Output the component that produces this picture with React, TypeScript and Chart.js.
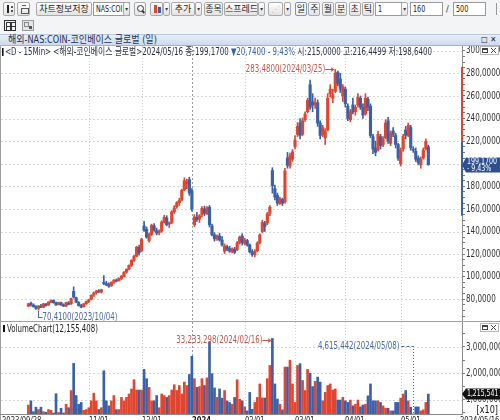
import React, { useEffect, useRef } from 'react';
import { Chart, registerables } from 'chart.js';

Chart.register(...registerables);

// ---------------- data (daily candles, 2023/09/28 .. 2024/05/16) ----------------
const opens = [
  74.0, 76.5, 75.0, 73.5, 72.0, 74.0, 73.0, 75.5, 75.0, 77.5,
  79.0, 77.0, 75.5, 77.0, 75.0, 74.0, 77.0, 76.0, 87.0, 81.5,
  77.0, 74.5, 73.5, 76.0, 78.0, 80.0, 84.0, 86.0, 87.5, 86.5,
  95.0, 94.0, 93.0, 92.0, 95.0, 97.0, 96.5, 98.5, 100.0, 104.0,
  106.5, 110.0, 114.5, 118.0, 126.0, 123.0, 145.0, 142.0, 132.0, 137.5,
  145.0, 140.5, 139.0, 140.5, 148.5, 152.0, 146.5, 148.0, 157.5, 162.0,
  165.5, 168.0, 177.0, 182.0, 186.0, 176.0, 146.0, 152.5, 151.0, 155.0,
  160.0, 156.0, 161.5, 145.0, 137.0, 133.5, 136.0, 132.5, 122.5, 126.5,
  125.0, 122.5, 124.5, 124.0, 130.0, 136.0, 129.5, 132.0, 128.0, 122.0,
  119.5, 123.0, 130.0, 140.0, 147.0, 147.5, 156.0, 194.0, 178.0, 172.0,
  165.0, 168.5, 166.0, 205.0, 198.0, 204.0, 215.0, 226.0, 236.0, 226.0,
  239.0, 246.0, 270.0, 255.0, 252.0, 254.0, 236.0, 226.0, 223.0, 230.0,
  262.0, 258.0, 264.0, 281.0, 275.0, 260.0, 266.0, 251.0, 239.0, 252.0,
  246.0, 252.0, 258.0, 250.0, 244.0, 257.0, 251.0, 224.0, 214.0, 212.0,
  224.0, 217.0, 223.0, 238.0, 218.0, 229.0, 225.0, 217.0, 200.0, 213.0,
  230.0, 225.0, 232.0, 213.0, 211.0, 205.0, 199.0, 205.0, 213.0, 215.0,
];
const highs = [
  76.5, 77.5, 76.0, 74.5, 74.5, 75.5, 76.5, 76.5, 78.0, 79.5,
  79.5, 77.5, 77.5, 77.5, 76.0, 77.5, 78.0, 81.0, 91.0, 82.0,
  78.0, 75.5, 76.5, 78.5, 80.0, 84.0, 86.5, 88.0, 88.5, 89.0,
  101.0, 96.0, 94.5, 95.5, 97.5, 98.0, 99.0, 101.0, 104.5, 107.0,
  110.5, 115.0, 119.0, 127.0, 128.0, 134.0, 149.0, 144.0, 138.5, 146.5,
  147.0, 143.0, 141.5, 149.5, 154.5, 154.0, 148.5, 158.5, 163.0, 166.5,
  169.5, 177.5, 187.5, 186.5, 188.0, 178.0, 155.0, 157.0, 155.0, 162.0,
  162.5, 162.0, 163.0, 146.5, 139.0, 137.0, 138.5, 135.5, 129.0, 128.0,
  127.0, 125.5, 126.0, 131.0, 136.0, 138.0, 134.0, 133.0, 129.0, 124.0,
  124.0, 131.0, 138.0, 150.0, 149.0, 157.0, 163.0, 196.5, 181.0, 174.0,
  170.5, 169.5, 196.0, 210.0, 209.5, 212.5, 225.0, 236.5, 240.0, 240.5,
  246.0, 258.0, 274.0, 262.0, 258.0, 256.5, 238.0, 234.0, 231.0, 262.0,
  270.0, 266.0, 283.48, 282.0, 280.0, 270.0, 268.0, 253.0, 248.0, 258.0,
  252.0, 262.0, 260.0, 253.0, 262.0, 259.0, 253.0, 226.0, 220.0, 229.0,
  226.0, 224.0, 239.0, 241.0, 229.0, 232.0, 227.0, 218.0, 214.0, 226.0,
  233.0, 236.0, 234.0, 215.0, 214.0, 207.0, 206.0, 214.0, 222.0, 216.4499,
];
const lows = [
  73.5, 74.0, 73.0, 71.0, 70.41, 72.5, 72.5, 74.0, 74.5, 77.0,
  76.5, 74.5, 75.0, 74.5, 73.5, 73.5, 75.0, 75.5, 81.0, 77.0,
  74.0, 72.5, 73.0, 75.5, 77.0, 79.5, 82.5, 84.5, 86.0, 85.5,
  93.0, 92.0, 90.5, 91.5, 94.0, 95.5, 96.0, 97.5, 99.5, 103.0,
  106.0, 109.0, 113.5, 117.5, 119.0, 122.0, 140.0, 134.0, 130.5, 136.5,
  140.0, 137.0, 137.0, 139.5, 147.5, 145.0, 143.5, 147.0, 156.0, 160.5,
  163.0, 167.0, 176.0, 178.0, 172.0, 158.0, 144.5, 149.0, 148.0, 153.0,
  154.0, 155.0, 144.0, 136.0, 131.5, 132.0, 131.5, 127.0, 120.5, 123.0,
  121.5, 121.0, 120.5, 123.0, 129.0, 128.0, 128.0, 127.0, 121.0, 118.0,
  117.5, 122.0, 129.0, 139.0, 140.0, 146.0, 154.0, 174.0, 168.0, 163.0,
  164.0, 163.0, 165.0, 196.0, 196.0, 202.0, 213.0, 224.0, 222.0, 225.0,
  237.5, 245.0, 248.0, 246.0, 249.0, 233.0, 222.0, 224.0, 217.0, 229.0,
  259.0, 254.0, 263.0, 269.0, 263.0, 255.0, 250.0, 238.0, 237.0, 244.0,
  243.0, 250.0, 248.0, 240.0, 243.0, 247.0, 223.0, 209.0, 207.0, 211.0,
  213.0, 215.0, 222.0, 218.0, 216.0, 224.0, 214.0, 203.0, 198.0, 211.0,
  222.0, 224.0, 212.0, 210.0, 202.0, 199.0, 196.0, 204.0, 212.0, 198.64,
];
const closes = [
  76.0, 75.5, 73.5, 72.0, 74.0, 73.0, 76.0, 74.5, 77.5, 79.0,
  77.0, 75.0, 77.0, 75.0, 74.0, 77.0, 75.5, 80.5, 82.0, 77.5,
  74.5, 73.0, 76.0, 78.0, 79.5, 83.5, 85.5, 87.0, 86.5, 88.5,
  94.0, 92.5, 91.5, 95.0, 97.0, 96.0, 98.5, 100.5, 104.0, 106.5,
  110.0, 114.5, 118.0, 126.0, 121.0, 133.0, 141.0, 135.0, 137.5, 145.5,
  141.0, 138.5, 140.5, 148.5, 152.5, 146.0, 147.5, 157.5, 161.0, 165.5,
  167.5, 176.5, 185.0, 184.0, 174.0, 160.0, 153.0, 150.5, 154.0, 160.5,
  156.0, 161.0, 146.0, 137.0, 133.5, 136.0, 132.5, 128.0, 127.0, 124.5,
  122.5, 124.5, 121.5, 130.0, 135.0, 130.0, 132.5, 128.0, 122.0, 119.5,
  122.5, 129.5, 137.0, 148.0, 144.5, 155.5, 161.5, 180.5, 170.5, 165.0,
  169.0, 165.0, 193.5, 198.5, 207.0, 210.5, 221.0, 233.0, 225.0, 238.0,
  244.0, 256.0, 250.0, 252.0, 254.0, 236.0, 225.0, 232.0, 229.0, 258.0,
  266.0, 261.0, 280.0, 271.0, 266.0, 268.0, 253.0, 240.0, 246.0, 246.0,
  250.0, 259.0, 250.0, 243.0, 258.0, 250.0, 225.0, 213.0, 210.0, 226.0,
  216.0, 222.0, 236.0, 220.0, 227.0, 226.0, 217.0, 205.0, 212.0, 224.0,
  225.0, 234.0, 214.0, 212.0, 204.0, 201.0, 204.0, 212.0, 219.91, 199.17,
];
const volumes = [
  8000000, 9600000, 5500000, 7200000, 6300000, 7200000, 5500000, 5300000, 6300000, 6000000,
  5000000, 12300000, 5200000, 6800000, 5000000, 8300000, 7000000, 13500000, 23800000, 11600000,
  8300000, 9000000, 6000000, 6300000, 7000000, 9600000, 12500000, 9600000, 6300000, 7000000,
  21000000, 9600000, 7700000, 9600000, 11600000, 6300000, 6300000, 10900000, 9600000, 10900000,
  12200000, 14100000, 17600000, 13700000, 13700000, 13700000, 21500000, 18000000, 14700000, 9600000,
  9600000, 11600000, 7000000, 12200000, 11600000, 10900000, 11600000, 13700000, 15700000, 13500000,
  15400000, 12200000, 16700000, 15400000, 19600000, 26500000, 18000000, 14700000, 15000000, 18000000,
  15400000, 18300000, 32000000, 19900000, 14500000, 10900000, 14100000, 10600000, 13500000, 9600000,
  9000000, 8300000, 10900000, 17600000, 10200000, 9600000, 7300000, 5800000, 12800000, 6400000,
  9000000, 10900000, 16000000, 10700000, 10700000, 18000000, 23000000, 33233298, 16000000, 10300000,
  8300000, 6200000, 22400000, 22400000, 25000000, 16000000, 9000000, 23000000, 23700000, 17300000,
  13500000, 21500000, 20000000, 15000000, 17000000, 18600000, 16700000, 9600000, 12800000, 15400000,
  16000000, 13700000, 14100000, 9900000, 9900000, 10900000, 9600000, 9000000, 9900000, 7700000,
  8300000, 9900000, 7300000, 8000000, 8300000, 11500000, 16000000, 9600000, 9600000, 9600000,
  9000000, 7700000, 6800000, 6800000, 5800000, 5800000, 9000000, 9000000, 10600000, 12200000,
  13500000, 9600000, 7200000, 4615442, 7300000, 7300000, 5800000, 6200000, 9000000, 12155408,
];

const dateTickIndex = [0, 24, 45, 65, 86, 106, 126, 148];
const dateTickLabels = ['2023/09/28', '11/01', '12/01', '2024', '02/01', '03/01', '04/01', '05/01'];
const lastDateLabel = '2024/05/16';
const highDate = '2024/03/25';
const lowDate = '2023/10/04';
const volumeMaxDate = '2024/02/16';
const volumeMinDate = '2024/05/08';
const priceLabelTicks = [80, 100, 120, 140, 160, 180, 200, 220, 240, 260, 280, 300];
const volumeLabelTicks = [1000000, 2000000, 3000000];
const volumeUnit = 10;
const limitRate = 0.3;
const symbolTitle = '해외-NAS:COIN-코인베이스 글로벌 (일)';
const infoPrefix = '<D - 15Min> <해외-코인베이스 글로벌>';

// ---------------- styles ----------------
const UP = '#e1452f';
const DOWN = '#3a61a8';
const CFONT = '"DejaVu Sans Condensed","DejaVu Sans",sans-serif';
const UI_FONT = '"DejaVu Sans Condensed","Noto Sans CJK KR",sans-serif';
const SX = 0.78;
const X_MIN = -0.7;
const X_MAX = 162.2;
const PRICE_MIN = 59.9;
const PRICE_MAX = 304.2;
const VOL_MIN = 461544;
const VOL_MAX = 3947000;
const AXIS_W = 38;

const fmtPrice = (v: number) => v.toFixed(4).replace('.', ',');
const fmtInt = (v: number) => Math.round(v).toLocaleString('en-US');

const candleColors = closes.map((c, i) => (c >= opens[i] ? UP : DOWN));

const priceMinorTicks: number[] = [];
for (let v = 60; v <= 300; v += 5) priceMinorTicks.push(v);
const volumeMinorTicks: number[] = [];
for (let v = 500000; v <= 3500000; v += 500000) volumeMinorTicks.push(v);

function line(ctx: CanvasRenderingContext2D, x1: number, y1: number, x2: number, y2: number) {
  ctx.beginPath();
  ctx.moveTo(x1, y1);
  ctx.lineTo(x2, y2);
  ctx.stroke();
}

// narrow text: draw with horizontal compression
function txt(
  ctx: CanvasRenderingContext2D,
  s: string,
  x: number,
  y: number,
  align: CanvasTextAlign,
  color: string,
  size = 10,
  bold = false,
  sx = SX
) {
  ctx.save();
  ctx.translate(x, y);
  ctx.scale(sx, 1);
  ctx.font = `${bold ? 'bold ' : ''}${size}px ${CFONT}`;
  ctx.textAlign = align;
  ctx.fillStyle = color;
  ctx.fillText(s, 0, 0);
  ctx.restore();
}

function arrowRight(ctx: CanvasRenderingContext2D, x1: number, x2: number, y: number, color: string) {
  ctx.strokeStyle = color;
  ctx.fillStyle = color;
  ctx.lineWidth = 1;
  ctx.setLineDash([]);
  line(ctx, x1, y + 0.5, x2 - 2, y + 0.5);
  ctx.beginPath();
  ctx.moveTo(x2, y + 0.5);
  ctx.lineTo(x2 - 3, y - 2);
  ctx.lineTo(x2 - 3, y + 3);
  ctx.closePath();
  ctx.fill();
}

function winIcons(ctx: CanvasRenderingContext2D, x: number, y: number) {
  ctx.save();
  ctx.setLineDash([]);
  ctx.fillStyle = '#fff';
  ctx.fillRect(x, y, 18, 8);
  ctx.strokeStyle = '#b8b8b8';
  ctx.lineWidth = 1;
  ctx.strokeRect(x + 0.5, y + 0.5, 18, 8);
  ctx.strokeStyle = '#444';
  ctx.strokeRect(x + 2.5, y + 2.5, 5, 4);
  line(ctx, x + 2.5, y + 3.5, x + 7.5, y + 3.5);
  line(ctx, x + 11, y + 2, x + 16, y + 7);
  line(ctx, x + 16, y + 2, x + 11, y + 7);
  ctx.restore();
}

function gridPainter(ctx: CanvasRenderingContext2D, chart: any, hValues: number[]) {
  const a = chart.chartArea;
  const xs = chart.scales.x;
  const ys = chart.scales.y;
  ctx.save();
  ctx.lineWidth = 1;
  ctx.strokeStyle = '#d8d8d8';
  ctx.setLineDash([2, 2]);
  hValues.forEach((v) => {
    const py = Math.round(ys.getPixelForValue(v)) + 0.5;
    if (py > a.top && py < a.bottom) line(ctx, a.left, py, a.right, py);
  });
  dateTickIndex.forEach((i, k) => {
    if (k === 0) return;
    const px = Math.round(xs.getPixelForValue(i)) + 0.5;
    const strong = dateTickLabels[k].length === 4;
    ctx.strokeStyle = strong ? '#9c9c9c' : '#d2d2d2';
    ctx.setLineDash(strong ? [2, 2] : [1, 2]);
    line(ctx, px, a.top, px, a.bottom);
  });
  ctx.restore();
}

function axisLabels(ctx: CanvasRenderingContext2D, chart: any, values: number[], fmt: (v: number) => string) {
  const a = chart.chartArea;
  const ys = chart.scales.y;
  ctx.save();
  ctx.textBaseline = 'middle';
  values.forEach((v) => {
    const py = ys.getPixelForValue(v);
    if (py >= a.top + 3 && py <= a.bottom - 3) txt(ctx, fmt(v), a.right + 4, py, 'left', '#333', 10, false, 0.8);
  });
  ctx.restore();
}

const pricePlugin = {
  id: 'priceDeco',
  beforeDatasetsDraw(chart: any) {
    gridPainter(chart.ctx, chart, priceLabelTicks);
  },
  afterDraw(chart: any) {
    const ctx: CanvasRenderingContext2D = chart.ctx;
    const a = chart.chartArea;
    const xs = chart.scales.x;
    const ys = chart.scales.y;
    ctx.save();
    ctx.setLineDash([]);
    ctx.lineWidth = 1;
    ctx.strokeStyle = '#a0a0a0';
    line(ctx, 0.5, 0, 0.5, chart.height);
    line(ctx, 0, chart.height - 0.5, chart.width, chart.height - 0.5);

    axisLabels(ctx, chart, priceLabelTicks, fmtPrice);

    // price limit bar on the axis
    const prev = closes[closes.length - 2];
    ctx.lineWidth = 2;
    ctx.strokeStyle = UP;
    line(ctx, a.right, ys.getPixelForValue(prev * (1 + limitRate)), a.right, ys.getPixelForValue(prev));
    ctx.strokeStyle = DOWN;
    line(ctx, a.right, ys.getPixelForValue(prev), a.right, ys.getPixelForValue(prev * (1 - limitRate)));

    ctx.textBaseline = 'middle';
    // highest high
    const hiVal = Math.max(...highs);
    const hiIdx = highs.indexOf(hiVal);
    const hx = xs.getPixelForValue(hiIdx);
    const hy = Math.round(ys.getPixelForValue(hiVal));
    txt(ctx, `${fmtPrice(hiVal)}(${highDate})`, hx - 10, hy, 'right', '#c4574b');
    arrowRight(ctx, hx - 10, hx - 1, hy, '#c4574b');

    // lowest low
    const loVal = Math.min(...lows);
    const loIdx = lows.indexOf(loVal);
    const lx = Math.round(xs.getPixelForValue(loIdx)) + 0.5;
    const ly = Math.round(ys.getPixelForValue(loVal));
    ctx.strokeStyle = '#4a6aa2';
    ctx.lineWidth = 1;
    line(ctx, lx, ly + 1, lx, ly + 8);
    line(ctx, lx, ly + 7.5, lx + 4, ly + 7.5);
    txt(ctx, `${fmtPrice(loVal)}(${lowDate})`, lx + 4, ly + 7, 'left', '#4a6aa2');

    // last price box
    const last = closes[closes.length - 1];
    const cy = Math.round(ys.getPixelForValue(last));
    const bx = a.right + 4;
    ctx.fillStyle = '#2d4f8e';
    ctx.beginPath();
    ctx.moveTo(a.right, cy);
    ctx.lineTo(bx, cy - 7.5);
    ctx.lineTo(chart.width, cy - 7.5);
    ctx.lineTo(chart.width, cy + 7.5);
    ctx.lineTo(bx, cy + 7.5);
    ctx.closePath();
    ctx.fill();
    const pct = ((last - prev) / prev) * 100;
    txt(ctx, fmtPrice(last), bx + 1, cy - 3, 'left', '#fff', 9, false, 0.78);
    txt(ctx, `${pct < 0 ? '-' : '+'} ${Math.abs(pct).toFixed(2).replace('.', ',')}%`, bx + 1, cy + 4, 'left', '#fff', 9, false, 0.78);

    winIcons(ctx, 480, 0);
    ctx.restore();
  },
};

const volumePlugin = {
  id: 'volumeDeco',
  beforeDatasetsDraw(chart: any) {
    gridPainter(chart.ctx, chart, volumeLabelTicks);
  },
  afterDraw(chart: any) {
    const ctx: CanvasRenderingContext2D = chart.ctx;
    const a = chart.chartArea;
    const xs = chart.scales.x;
    const ys = chart.scales.y;
    ctx.save();
    ctx.setLineDash([]);
    ctx.lineWidth = 1;
    ctx.strokeStyle = '#a0a0a0';
    line(ctx, 0.5, 0, 0.5, chart.height);
    ctx.strokeStyle = '#8a8a8a';
    line(ctx, 0, Math.round(a.bottom) + 0.5, a.right, Math.round(a.bottom) + 0.5);

    axisLabels(ctx, chart, volumeLabelTicks, fmtInt);

    ctx.textBaseline = 'middle';
    // header
    ctx.fillStyle = '#111';
    ctx.fillRect(3, 3, 2, 7);
    txt(ctx, `VolumeChart(${fmtInt(volumes[volumes.length - 1])})`, 7, 7, 'left', '#222');

    // max volume
    const vMax = Math.max(...volumes);
    const maxIdx = volumes.indexOf(vMax);
    const mx = xs.getPixelForValue(maxIdx);
    const my = Math.round(ys.getPixelForValue(vMax / volumeUnit)) + 2;
    txt(ctx, `${fmtInt(vMax)}(${volumeMaxDate})`, mx - 10, my, 'right', '#c4574b');
    arrowRight(ctx, mx - 10, mx - 1, my, '#c4574b');

    // min volume
    const vMin = Math.min(...volumes);
    const minIdx = volumes.indexOf(vMin);
    const nx = Math.round(xs.getPixelForValue(minIdx)) + 0.5;
    const ny = 24;
    txt(ctx, `${fmtInt(vMin)}(${volumeMinDate})`, nx - 14, ny, 'right', '#4a6aa2');
    ctx.strokeStyle = '#4a6aa2';
    ctx.setLineDash([3, 2]);
    line(ctx, nx - 12, ny + 0.5, nx, ny + 0.5);
    ctx.setLineDash([1, 2]);
    line(ctx, nx, ny, nx, a.bottom);
    ctx.setLineDash([]);

    // last volume box
    const lastV = volumes[volumes.length - 1] / volumeUnit;
    const cy = Math.round(ys.getPixelForValue(lastV));
    const bx = a.right + 4;
    ctx.fillStyle = '#111';
    ctx.beginPath();
    ctx.moveTo(a.right, cy);
    ctx.lineTo(bx, cy - 5.5);
    ctx.lineTo(chart.width, cy - 5.5);
    ctx.lineTo(chart.width, cy + 5.5);
    ctx.lineTo(bx, cy + 5.5);
    ctx.closePath();
    ctx.fill();
    txt(ctx, fmtInt(lastV), bx + 1, cy, 'left', '#fff', 9.5, false, 0.72);

    // unit
    txt(ctx, `[x${volumeUnit}]`, chart.width - 2, a.bottom - 4, 'right', '#111', 10, false, 0.9);

    // date labels
    ctx.textBaseline = 'top';
    dateTickIndex.forEach((i, k) => {
      const lbl = dateTickLabels[k];
      const px = k === 0 ? 2 : Math.round(xs.getPixelForValue(i));
      txt(ctx, lbl, px, a.bottom + 2, 'left', '#222', 9.5, lbl.length === 4, 0.8);
    });
    txt(ctx, lastDateLabel, a.right - 2, a.bottom + 2, 'left', '#222', 9.5, false, 0.8);

    winIcons(ctx, 480, 1);
    ctx.restore();
  },
};

function yAxis(min: number, max: number, minor: number[]) {
  return {
    position: 'right',
    min,
    max,
    afterFit: (s: any) => {
      s.width = AXIS_W;
    },
    afterBuildTicks: (s: any) => {
      s.ticks = minor.map((v) => ({ value: v }));
    },
    grid: { drawOnChartArea: false, drawTicks: true, tickLength: 3, tickColor: '#777' },
    border: { color: '#8a8a8a' },
    ticks: { display: false, autoSkip: false },
  };
}

const btnStyle: React.CSSProperties = {
  position: 'absolute',
  height: 14,
  top: 2,
  boxSizing: 'border-box',
  border: '1px solid #a9a9a9',
  borderRadius: 2,
  background: 'linear-gradient(#ffffff,#e2e2e2)',
  fontSize: 9,
  lineHeight: '12px',
  textAlign: 'center',
  color: '#222',
  whiteSpace: 'nowrap',
  overflow: 'hidden',
};
const inputStyle: React.CSSProperties = {
  ...btnStyle,
  background: '#fff',
  border: '1px solid #9a9a9a',
  borderRadius: 0,
  textAlign: 'left',
  paddingLeft: 2,
};

function Btn(props: { l: number; w: number; children?: any; s?: React.CSSProperties }) {
  return <div style={{ ...btnStyle, left: props.l, width: props.w, ...(props.s || {}) }}>{props.children}</div>;
}
function Drop(props: { l: number }) {
  return (
    <Btn l={props.l} w={7} s={{ fontSize: 6, lineHeight: '12px', color: '#333' }}>
      ▾
    </Btn>
  );
}
function Narrow(props: { children?: any; k?: number }) {
  return (
    <span style={{ display: 'inline-block', transform: `scaleX(${props.k || 0.8})`, transformOrigin: 'left center' }}>
      {props.children}
    </span>
  );
}

export default function App() {
  const priceRef = useRef<HTMLCanvasElement>(null);
  const volRef = useRef<HTMLCanvasElement>(null);
  const infoRef = useRef<HTMLDivElement>(null);
  const titleRef = useRef<HTMLSpanElement>(null);

  useEffect(() => {
    const fit = (el: HTMLElement | null, target: number) => {
      if (!el) return;
      const w = el.scrollWidth;
      if (w > 0) el.style.transform = `scaleX(${target / w})`;
    };
    fit(infoRef.current, 430);
    fit(titleRef.current, 149);

    const idx = closes.map((_, i) => i);
    const priceChart = new Chart(priceRef.current as HTMLCanvasElement, {
      type: 'bar',
      data: {
        datasets: [
          {
            data: idx.map((i) => ({ x: i, y: [lows[i], highs[i]] })),
            backgroundColor: candleColors,
            barThickness: 1,
            grouped: false,
            order: 2,
          },
          {
            data: idx.map((i) => ({ x: i, y: [opens[i], closes[i]] })),
            backgroundColor: candleColors,
            barThickness: 2.5,
            minBarLength: 1,
            grouped: false,
            order: 1,
          },
        ],
      } as any,
      options: {
        animation: false,
        responsive: false,
        maintainAspectRatio: false,
        events: [],
        layout: { padding: { left: 1, right: 0, top: 0, bottom: 0 } },
        plugins: { legend: { display: false }, tooltip: { enabled: false } },
        scales: {
          x: { type: 'linear', min: X_MIN, max: X_MAX, display: false },
          y: yAxis(PRICE_MIN, PRICE_MAX, priceMinorTicks),
        },
      } as any,
      plugins: [pricePlugin],
    });

    const volChart = new Chart(volRef.current as HTMLCanvasElement, {
      type: 'bar',
      data: {
        datasets: [
          {
            data: idx.map((i) => ({ x: i, y: volumes[i] / volumeUnit })),
            backgroundColor: candleColors,
            barThickness: 2,
            grouped: false,
          },
        ],
      } as any,
      options: {
        animation: false,
        responsive: false,
        maintainAspectRatio: false,
        events: [],
        layout: { padding: { left: 1, right: 0, top: 0, bottom: 6 } },
        plugins: { legend: { display: false }, tooltip: { enabled: false } },
        scales: {
          x: { type: 'linear', min: X_MIN, max: X_MAX, display: false },
          y: yAxis(VOL_MIN, VOL_MAX, volumeMinorTicks),
        },
      } as any,
      plugins: [volumePlugin],
    });

    return () => {
      priceChart.destroy();
      volChart.destroy();
    };
  }, []);

  const n = closes.length;
  const last = closes[n - 1];
  const prev = closes[n - 2];
  const chg = last - prev;
  const pct = Math.abs((chg / prev) * 100).toFixed(2).replace('.', ',');

  return (
    <div
      style={{
        position: 'fixed',
        left: 0,
        top: 0,
        width: 500,
        height: 420,
        overflow: 'hidden',
        background: '#fff',
        fontFamily: UI_FONT,
      }}
    >
      {/* toolbar */}
      <div style={{ position: 'absolute', left: 0, top: 0, width: 500, height: 34, background: '#f3f4f6' }} />
      <Btn l={3} w={12}>
        <div style={{ position: 'absolute', left: 3, top: 2, width: 2, height: 8, background: '#222' }} />
        <div style={{ position: 'absolute', left: 7, top: 3, width: 2, height: 2, background: '#555' }} />
        <div style={{ position: 'absolute', left: 7, top: 7, width: 2, height: 2, background: '#555' }} />
      </Btn>
      <Btn l={17} w={13}>
        <div style={{ position: 'absolute', left: 3, top: 5, width: 6, height: 4, border: '1px solid #555' }} />
        <div style={{ position: 'absolute', left: 4, top: 2, width: 4, height: 3, borderTop: '1px solid #555' }} />
      </Btn>
      <Btn l={36} w={56}>차트정보저장</Btn>
      <div style={{ ...inputStyle, left: 93, width: 37 }}>
        <Narrow k={0.78}>NAS:COI</Narrow>
      </div>
      <Drop l={123} />
      <Btn l={134} w={12}>
        <div style={{ position: 'absolute', left: 2, top: 2, width: 5, height: 5, borderRadius: 4, border: '1px solid #333' }} />
        <div style={{ position: 'absolute', left: 7, top: 8, width: 3, height: 1.5, background: '#333', transform: 'rotate(45deg)' }} />
      </Btn>
      <Btn l={150} w={13}>
        <div style={{ position: 'absolute', left: 3, top: 2, width: 3, height: 8, background: UP }} />
        <div style={{ position: 'absolute', left: 7, top: 4, width: 3, height: 6, background: DOWN }} />
      </Btn>
      <Drop l={163} />
      <Btn l={171} w={24}>추가</Btn>
      <Drop l={195} />
      <Btn l={204} w={19}>종목</Btn>
      <Btn l={224} w={34}>스프레드</Btn>
      <Drop l={258} />
      <Btn l={268} w={15} s={{ color: '#bbb' }}>
        ⋰
      </Btn>
      <Drop l={284} />
      {['일', '주', '월', '분', '초', '틱'].map((t, k) => (
        <Btn
          key={t}
          l={295 + k * 13.4}
          w={12}
          s={k === 0 ? { border: '1px solid #7f93b5', background: 'linear-gradient(#ffffff,#e8eef8)' } : {}}
        >
          {t}
        </Btn>
      ))}
      <div style={{ ...inputStyle, left: 375, width: 27 }}>
        <Narrow>1</Narrow>
      </div>
      <Drop l={401} />
      <div style={{ ...inputStyle, left: 410, width: 33 }}>
        <Narrow>160</Narrow>
      </div>
      <div style={{ position: 'absolute', left: 446, top: 2, fontSize: 9, lineHeight: '14px', color: '#333' }}>/</div>
      <div style={{ ...inputStyle, left: 453, width: 33 }}>
        <Narrow>500</Narrow>
      </div>
      <div style={{ position: 'absolute', left: 496, top: 3, width: 4, height: 12, borderLeft: '1px solid #999' }} />
      {/* second row icons */}
      <div style={{ position: 'absolute', left: 4, top: 20, width: 12, height: 11, boxSizing: 'border-box', border: '1px solid #333' }}>
        <div style={{ position: 'absolute', left: 1, top: 1, width: 3, height: 3, border: '1px solid #333' }} />
        <div style={{ position: 'absolute', left: 5.5, top: 1, width: 3, height: 3, border: '1px solid #333' }} />
        <div style={{ position: 'absolute', left: 1, top: 5, width: 3, height: 3, border: '1px solid #333' }} />
        <div style={{ position: 'absolute', left: 5.5, top: 5, width: 3, height: 3, border: '1px solid #333' }} />
      </div>
      <div style={{ position: 'absolute', left: 22, top: 20, width: 12, height: 11, boxSizing: 'border-box', border: '1px solid #999', background: '#e6e6e6' }}>
        <div style={{ position: 'absolute', left: 1, top: 1, width: 3, height: 3, border: '1px solid #888' }} />
        <div style={{ position: 'absolute', left: 5.5, top: 5, width: 3, height: 3, background: '#555' }} />
      </div>
      {/* title bar */}
      <div
        style={{
          position: 'absolute',
          left: 0,
          top: 34,
          width: 500,
          height: 12,
          boxSizing: 'border-box',
          background: 'linear-gradient(#e6eef8,#cddbee)',
          borderTop: '1px solid #b9c8dc',
          borderBottom: '1px solid #9fb3cf',
        }}
      >
        <span
          ref={titleRef}
          style={{
            position: 'absolute',
            left: 8,
            top: -1,
            fontSize: 10,
            lineHeight: '11px',
            color: '#1e2f4e',
            whiteSpace: 'nowrap',
            transformOrigin: 'left center',
          }}
        >
          {symbolTitle}
        </span>
        <span style={{ position: 'absolute', left: 481, top: 0, fontSize: 8, lineHeight: '10px', color: '#222', fontWeight: 'bold' }}>
          □ ✕
        </span>
      </div>
      <canvas ref={priceRef} width={500} height={276} style={{ position: 'absolute', left: 0, top: 46, display: 'block' }} />
      <canvas ref={volRef} width={500} height={98} style={{ position: 'absolute', left: 0, top: 322, display: 'block' }} />
      {/* info line */}
      <div
        ref={infoRef}
        style={{
          position: 'absolute',
          left: 2,
          top: 46,
          fontSize: 10,
          lineHeight: '11px',
          whiteSpace: 'nowrap',
          color: '#2a3342',
          transformOrigin: 'left center',
        }}
      >
        <span style={{ display: 'inline-block', width: 2, height: 8, background: '#111', marginRight: 2, verticalAlign: '-1px' }} />
        {infoPrefix}
        {lastDateLabel} 종:{fmtPrice(last)}{' '}
        <span style={{ color: DOWN }}>
          ▼{fmtPrice(Math.abs(chg))} - {pct}%
        </span>{' '}
        시:{fmtPrice(opens[n - 1])} 고:{fmtPrice(highs[n - 1])} 저:{fmtPrice(lows[n - 1])}
      </div>
    </div>
  );
}
